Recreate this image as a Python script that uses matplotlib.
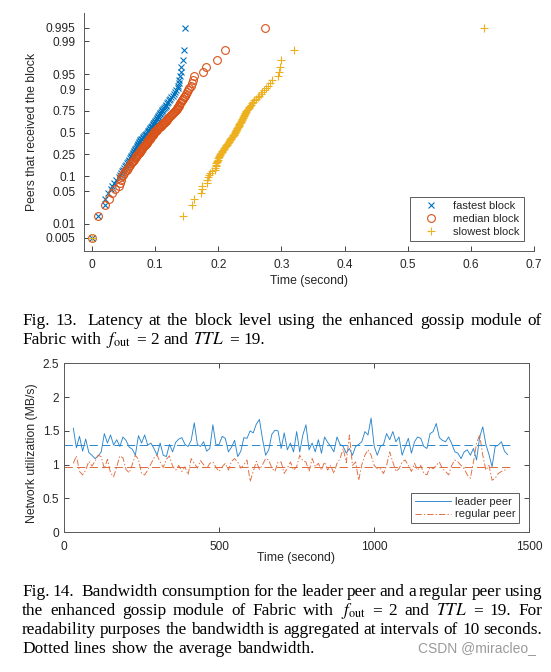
import numpy as np
import matplotlib
matplotlib.use('Agg')
import matplotlib.pyplot as plt
from matplotlib.ticker import NullLocator, FixedLocator, FixedFormatter

plt.rcParams['font.family'] = ['Liberation Sans', 'DejaVu Sans']
plt.rcParams['mathtext.fontset'] = 'stix'
plt.rcParams['lines.scale_dashes'] = False

# ---------------- Fig. 13 data (sorted arrival times, seconds; 100 peers) ----------------
fastest_block = [
    0.000, 0.0095, 0.020, 0.021, 0.026, 0.030, 0.031, 0.035, 0.0387, 0.042,
    0.0443, 0.0462, 0.048, 0.0497, 0.0512, 0.0527, 0.0541, 0.0554, 0.0567, 0.058,
    0.0592, 0.0603, 0.0614, 0.0625, 0.0635, 0.0645, 0.0654, 0.0663, 0.0672, 0.068,
    0.0688, 0.0697, 0.0705, 0.0713, 0.0721, 0.0728, 0.0736, 0.0743, 0.0751, 0.0758,
    0.0766, 0.0775, 0.0788, 0.080, 0.0813, 0.0825, 0.0837, 0.0849, 0.0862, 0.0874,
    0.0884, 0.0893, 0.0901, 0.0909, 0.0918, 0.0926, 0.0935, 0.0943, 0.0952, 0.096,
    0.0969, 0.0978, 0.0987, 0.0996, 0.1005, 0.1014, 0.1023, 0.1033, 0.1042, 0.1052,
    0.1062, 0.1072, 0.1083, 0.1093, 0.1104, 0.1115, 0.1127, 0.114, 0.1152, 0.1165,
    0.1179, 0.1193, 0.1208, 0.1224, 0.124, 0.1257, 0.1276, 0.1295, 0.1315, 0.1337,
    0.1354, 0.1362, 0.1371, 0.1381, 0.1393, 0.1402, 0.141, 0.1436, 0.1452, 0.148]
median_block = [
    0.000, 0.0095, 0.021, 0.0274, 0.032, 0.0364, 0.042, 0.0437, 0.0452, 0.0465,
    0.0486, 0.0509, 0.0529, 0.0549, 0.0568, 0.0586, 0.0603, 0.0618, 0.0634, 0.0648,
    0.0663, 0.0676, 0.0689, 0.0702, 0.0714, 0.0727, 0.074, 0.0752, 0.0764, 0.0776,
    0.0787, 0.0799, 0.081, 0.0821, 0.0832, 0.0842, 0.0853, 0.0863, 0.0874, 0.0884,
    0.0894, 0.0904, 0.0913, 0.0922, 0.0931, 0.094, 0.0949, 0.0958, 0.0967, 0.0976,
    0.0986, 0.0999, 0.1011, 0.1024, 0.1036, 0.1049, 0.1062, 0.1075, 0.1088, 0.1101,
    0.1114, 0.1127, 0.114, 0.1154, 0.1167, 0.1181, 0.1195, 0.1209, 0.1224, 0.1238,
    0.1253, 0.1269, 0.1284, 0.13, 0.1316, 0.133, 0.134, 0.1351, 0.1362, 0.1373,
    0.1384, 0.1396, 0.1409, 0.1422, 0.1435, 0.145, 0.1465, 0.1481, 0.1498, 0.1516,
    0.1537, 0.1562, 0.159, 0.1605, 0.1616, 0.1753, 0.18, 0.198, 0.2106, 0.274]
slowest_block = [
    0.000, 0.1436, 0.159, 0.162, 0.172, 0.1737, 0.174, 0.1816, 0.1816, 0.184,
    0.1853, 0.1865, 0.19, 0.1945, 0.1955, 0.1961, 0.1966, 0.1971, 0.1977, 0.1986,
    0.1994, 0.2002, 0.2009, 0.2017, 0.2024, 0.2033, 0.2044, 0.2055, 0.2065, 0.2076,
    0.2086, 0.2096, 0.2106, 0.2115, 0.2125, 0.2135, 0.2144, 0.2153, 0.2162, 0.2171,
    0.218, 0.219, 0.2199, 0.2208, 0.2217, 0.2226, 0.2234, 0.2243, 0.2252, 0.2261,
    0.2268, 0.2275, 0.2281, 0.2288, 0.2295, 0.2301, 0.2308, 0.2315, 0.2322, 0.2328,
    0.2335, 0.2342, 0.2349, 0.2357, 0.2364, 0.2372, 0.2379, 0.2387, 0.2395, 0.2403,
    0.2411, 0.2419, 0.2428, 0.2436, 0.2445, 0.2455, 0.2467, 0.248, 0.2493, 0.2506,
    0.252, 0.2534, 0.2549, 0.257, 0.2596, 0.2625, 0.2652, 0.2675, 0.2699, 0.2725,
    0.2754, 0.2787, 0.2823, 0.2846, 0.295, 0.296, 0.2977, 0.2993, 0.32, 0.621]
block_labels = ['fastest block', 'median block', 'slowest block']
prob_ticks = [0.005, 0.01, 0.05, 0.1, 0.25, 0.5, 0.75, 0.9, 0.95, 0.99, 0.995]
prob_tick_labels = ['0.005', '0.01', '0.05', '0.1', '0.25', '0.5', '0.75', '0.9', '0.95', '0.99', '0.995']
time_ticks_13 = [0, 0.1, 0.2, 0.3, 0.4, 0.5, 0.6, 0.7]
time_tick_labels_13 = ['0', '0.1', '0.2', '0.3', '0.4', '0.5', '0.6', '0.7']

# ---------------- Fig. 14 data (MB/s, aggregated every 10 s from t = 30 s) ----------------
interval_start = 30
interval_step = 10
leader_peer = [
    1.54, 1.25, 1.42, 1.20, 1.38, 1.18, 1.14,
    1.09, 1.13, 1.19, 1.46, 1.32, 1.44, 1.29, 1.37, 1.27, 1.41,
    1.36, 1.26, 1.23, 1.14, 1.43, 1.32, 1.44, 1.29, 1.32, 1.24,
    1.14, 1.32, 1.14, 1.12, 1.30, 1.19, 1.33, 1.38, 1.40, 1.30,
    1.27, 1.36, 1.62, 1.30, 1.27, 1.34, 1.20, 1.24, 1.59, 1.29,
    1.30, 1.42, 1.39, 1.19, 1.26, 1.36, 1.12, 1.20, 1.40, 1.39,
    1.50, 1.47, 1.60, 1.67, 1.38, 1.14, 1.22, 1.45, 1.51, 1.50,
    1.24, 1.47, 1.22, 1.32, 1.19, 1.49, 1.19, 1.44, 1.59, 1.22,
    1.32, 1.19, 1.37, 1.17, 1.41, 1.33, 1.27, 1.19, 1.41, 1.30,
    1.27, 1.17, 1.24, 1.14, 1.27, 1.30, 1.34, 1.49, 1.44, 1.69,
    1.27, 1.14, 1.27, 1.30, 1.46, 1.37, 1.49, 1.34, 1.41, 1.14,
    1.27, 1.39, 1.17, 1.34, 1.41, 1.39, 1.27, 1.24, 1.46, 1.49,
    1.61, 1.40, 1.36, 1.34, 1.41, 1.31, 1.19, 1.17, 1.09, 1.19,
    1.22, 1.14, 1.24, 1.07, 1.41, 1.56, 1.30, 1.15, 0.97, 1.27,
    1.29, 1.34, 1.20, 1.15]
regular_peer = [
    1.02, 1.13, 0.90, 0.85, 0.92, 1.05, 0.98,
    1.05, 1.14, 1.12, 0.94, 1.08, 0.88, 0.82, 0.97, 1.13, 1.10,
    0.93, 0.88, 1.00, 1.14, 1.08, 0.87, 0.85, 0.92, 1.01, 1.10,
    1.14, 1.04, 0.96, 1.08, 1.13, 0.98, 0.92, 0.99, 0.90, 0.97,
    0.85, 1.09, 1.02, 0.95, 1.06, 1.00, 0.94, 1.02, 1.04, 0.96,
    0.90, 0.97, 1.02, 0.92, 1.05, 1.09, 1.04, 0.95, 1.00, 1.07,
    0.75, 0.90, 1.05, 0.93, 1.00, 1.09, 1.07, 0.95, 0.90, 1.04,
    1.04, 0.87, 0.95, 1.04, 0.92, 0.97, 1.14, 1.06, 1.04, 0.90,
    1.09, 0.97, 1.02, 0.92, 1.04, 0.92, 0.99, 0.87, 1.02, 1.09,
    1.24, 1.03, 1.44, 0.99, 1.04, 0.77, 1.00, 1.14, 1.22, 1.14,
    0.99, 0.94, 0.94, 0.87, 0.99, 1.19, 1.04, 0.90, 0.94, 1.04,
    1.07, 0.99, 0.90, 1.02, 0.92, 0.99, 0.87, 0.85, 0.97, 0.94,
    0.99, 1.04, 0.94, 0.90, 0.85, 0.99, 1.07, 1.04, 0.99, 0.94,
    0.85, 0.80, 1.04, 1.32, 1.44, 1.14, 0.92, 0.99, 0.77, 0.80,
    0.87, 0.90, 0.92, 0.94]
leader_avg = 1.29
regular_avg = 0.96
avg_span = [0, 1450]
peer_labels = ['leader peer', 'regular peer']

# ---------------- styling ----------------
W, H = 551, 672
BLUE = '#0072BD'
ORANGE = '#D95319'
YELLOW = '#EDB120'
BLUE_LINE = '#2a86cc'
ORANGE_LINE = '#e0693a'
AX_COL = '#262626'
TICK_FS = 8.6


def fbox(left, top, right, bottom):
    return [left / W, 1 - bottom / H, (right - left) / W, (bottom - top) / H]


fig = plt.figure(figsize=(W / 100, H / 100), dpi=100)

# ================= Fig. 13: probability plot =================
ax1 = fig.add_axes(fbox(84, 13, 534, 251))
n = len(fastest_block)
pos = (np.arange(1, n + 1) - 0.5) / n
ax1.plot(fastest_block, pos, linestyle='none', marker='x', ms=4.2, mew=0.8,
         color=BLUE, label=block_labels[0])
ax1.plot(median_block, pos, linestyle='none', marker='o', ms=5.6, mew=0.8,
         mfc='none', color=ORANGE, label=block_labels[1])
ax1.plot(slowest_block, pos, linestyle='none', marker='+', ms=5.2, mew=0.8,
         color=YELLOW, label=block_labels[2])
ax1.set_yscale('logit')
ax1.set_ylim(0.00257, 0.99760)
ax1.set_xlim(-0.0127, 0.7)
ax1.yaxis.set_major_locator(FixedLocator(prob_ticks))
ax1.yaxis.set_major_formatter(FixedFormatter(prob_tick_labels))
ax1.yaxis.set_minor_locator(NullLocator())
ax1.set_xticks(time_ticks_13)
ax1.set_xticklabels(time_tick_labels_13)
ax1.spines['top'].set_visible(False)
ax1.spines['right'].set_visible(False)
for sp in ('left', 'bottom'):
    ax1.spines[sp].set_color('#5a5a5a')
    ax1.spines[sp].set_linewidth(0.7)
ax1.tick_params(direction='in', length=3.5, width=0.6, colors=AX_COL,
                labelsize=TICK_FS)
ax1.tick_params(axis='x', pad=5.5)
ax1.tick_params(axis='y', pad=6)
ax1.set_xlabel('Time (second)', fontsize=8.8, color=AX_COL)
ax1.xaxis.set_label_coords(309 / W, 1 - 275 / H, transform=fig.transFigure)
ax1.set_ylabel('Peers that received the block', fontsize=8.8, color=AX_COL)
ax1.yaxis.set_label_coords(38 / W, 1 - 132 / H, transform=fig.transFigure)
leg1 = ax1.legend(loc='lower right', bbox_to_anchor=(524 / W, 1 - 241 / H),
                  bbox_transform=fig.transFigure, fontsize=8, frameon=True,
                  fancybox=False, borderpad=0.4, handlelength=3.0,
                  handletextpad=0.45, labelspacing=0.25, borderaxespad=0)
leg1.get_frame().set_edgecolor('#333333')
leg1.get_frame().set_linewidth(0.7)
for t in leg1.get_texts():
    t.set_color(AX_COL)

# ================= Fig. 14: bandwidth time series =================
ax2 = fig.add_axes(fbox(64, 363.3, 529.3, 532.3))
t_s = interval_start + interval_step * np.arange(len(leader_peer))
ax2.plot(t_s, leader_peer, color=BLUE_LINE, lw=0.65, label=peer_labels[0])
ax2.plot(t_s, regular_peer, color=ORANGE_LINE, lw=0.65, dashes=(4.5, 1.5, 1, 1.5),
         label=peer_labels[1])
ax2.plot(avg_span, [leader_avg, leader_avg], color=BLUE_LINE, lw=0.7, dashes=(6, 3))
ax2.plot(avg_span, [regular_avg, regular_avg], color=ORANGE_LINE, lw=0.7, dashes=(6, 3))
ax2.set_xlim(0, 1500)
ax2.set_ylim(0, 2.5)
ax2.set_xticks([0, 500, 1000, 1500])
ax2.set_yticks([0, 0.5, 1, 1.5, 2, 2.5])
ax2.set_yticklabels(['0', '0.5', '1', '1.5', '2', '2.5'])
for sp in ax2.spines.values():
    sp.set_color('#5a5a5a')
    sp.set_linewidth(0.7)
ax2.tick_params(direction='in', length=3.5, width=0.6, colors=AX_COL,
                labelsize=TICK_FS, top=True, right=True)
ax2.tick_params(axis='x', pad=6)
ax2.tick_params(axis='y', pad=3.5)
ax2.set_xlabel('Time (second)', fontsize=8.8, color=AX_COL)
ax2.xaxis.set_label_coords(296 / W, 1 - 552 / H, transform=fig.transFigure)
ax2.set_ylabel('Network utilization (MB/s)', fontsize=8.8, color=AX_COL)
ax2.yaxis.set_label_coords(38 / W, 1 - 453 / H, transform=fig.transFigure)
leg2 = ax2.legend(loc='lower right', bbox_to_anchor=(519.3 / W, 1 - 523.3 / H),
                  bbox_transform=fig.transFigure, fontsize=8, frameon=True,
                  fancybox=False, borderpad=0.35, handlelength=3.3,
                  handletextpad=0.3, labelspacing=0.2, borderaxespad=0)
leg2.get_frame().set_edgecolor('#333333')
leg2.get_frame().set_linewidth(0.7)
for t in leg2.get_texts():
    t.set_color(AX_COL)

# ================= Captions (justified serif text) =================
CAP_FS = 12.4
SERIF = ['Liberation Serif', 'DejaVu Serif']
renderer = fig.canvas.get_renderer()


def draw_line(words, y_base, justify, x0=22.0, x1=542.0, extra=None):
    extra = extra or {}
    texts, widths = [], []
    for w in words:
        t = fig.text(0, 1 - y_base / H, w, fontsize=CAP_FS, family=SERIF,
                     va='baseline', ha='left', color='black')
        texts.append(t)
        widths.append(t.get_window_extent(renderer).width)
    extra_total = sum(extra.values())
    if justify:
        gap = (x1 - x0 - sum(widths) - extra_total) / (len(words) - 1)
    else:
        gap = 0.27 * CAP_FS * 100 / 72
    x = x0
    for i, (t, w) in enumerate(zip(texts, widths)):
        t.set_x(x / W)
        x += w + gap + extra.get(i, 0)


math_f = r'$f_{\mathrm{out}}$'
math_ttl = r'$TTL$'
draw_line('Fig. 13. Latency at the block level using the enhanced gossip module of'.split(),
          325, True, extra={1: 4})
draw_line(['Fabric', 'with', math_f, '=', '2', 'and', math_ttl, '=', '19.'], 344, False)

draw_line('Fig. 14. Bandwidth consumption for the leader peer and a regular peer using'.split(),
          596, True, extra={1: 4})
draw_line('the enhanced gossip module of Fabric with'.split()
          + [math_f, '=', '2', 'and', math_ttl, '=', '19.', 'For'], 615, True)
draw_line('readability purposes the bandwidth is aggregated at intervals of 10 seconds.'.split(),
          634, True)
draw_line('Dotted lines show the average bandwidth.'.split(), 653, False)

fig.text(536 / W, 1 - 652 / H, 'CSDN @miracleo_', fontsize=10, color='#9a9a9a',
         ha='right', va='baseline', family=['Liberation Sans', 'DejaVu Sans'])

fig.savefig('out.png', dpi=100)
